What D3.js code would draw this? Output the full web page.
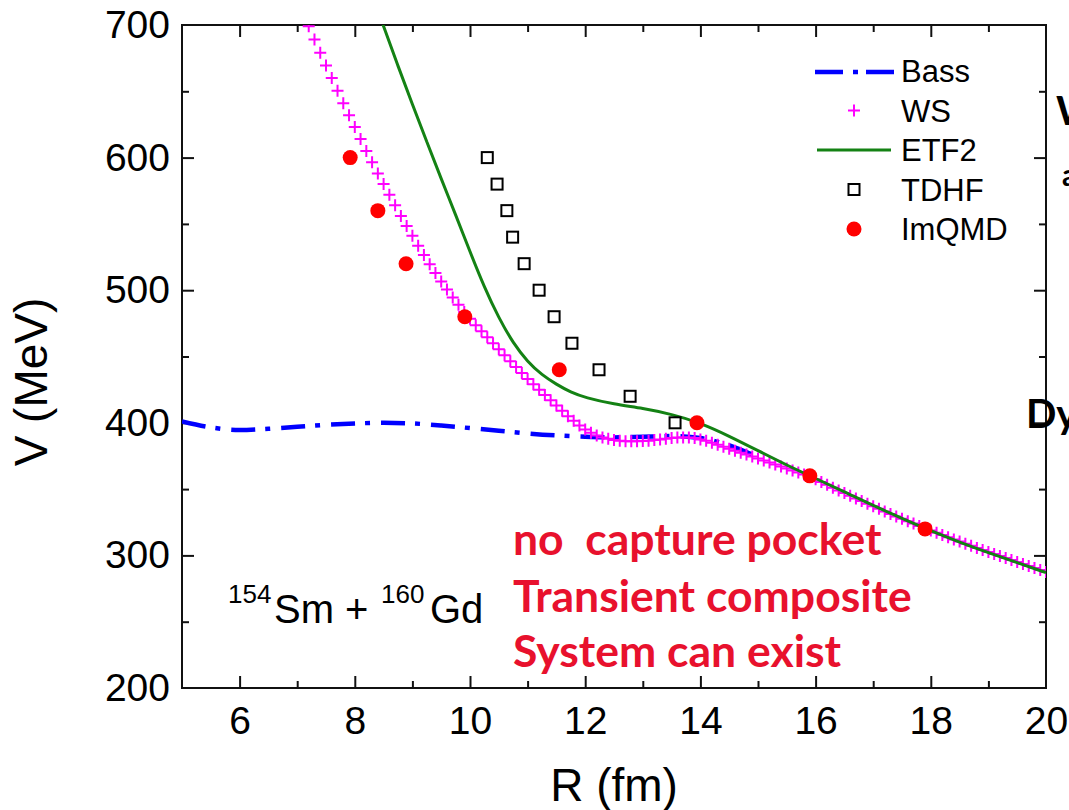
<!DOCTYPE html>
<html>
<head>
<meta charset="utf-8">
<script src="https://cdn.jsdelivr.net/npm/d3@7"></script>
<style>
  body { margin: 0; background: #fff; }
  svg text { font-family: "Liberation Sans", Arial, sans-serif; }
</style>
</head>
<body>
<svg id="chart"></svg>
<script>
// values
var bassR = [5.0, 5.5, 6.0, 6.5, 7.0, 7.5, 8.0, 8.5, 9.0, 9.5, 10.0, 10.5, 11.0, 11.5, 12.0, 12.5, 13.0, 13.5, 14.0, 14.5, 15.0];
var bassV = [401, 396.5, 394.5, 395.5, 397, 398.5, 399.5, 400, 399.5, 398, 396, 394, 392, 390.5, 389.5, 389, 389.5, 390, 388.5, 383, 374];

var wsPts = [
  [7.2, 699], [7.3, 689], [7.4, 679], [7.5, 669.5], [7.6, 660], [7.7, 650.5], [7.8, 641], [7.9, 632],
  [8.0, 623], [8.1, 614], [8.2, 605], [8.3, 596.5], [8.4, 588], [8.5, 580], [8.6, 572], [8.7, 564],
  [8.8, 556], [8.9, 548.5], [9.0, 541], [9.1, 533.5], [9.2, 526.5], [9.3, 519.5], [9.4, 513], [9.5, 506.5],
  [9.6, 500.5], [9.7, 494.5], [9.8, 489], [9.9, 483.5], [10.0, 478.5], [10.1, 473.5], [10.2, 469], [10.3, 464.5],
  [10.4, 460], [10.5, 455.5], [10.6, 451], [10.7, 446.5], [10.8, 442], [10.9, 437.5], [11.0, 433], [11.1, 429],
  [11.2, 425], [11.3, 421], [11.4, 417], [11.5, 413], [11.6, 409], [11.7, 405], [11.8, 401.5], [11.9, 398],
  [12.0, 395], [12.1, 392.5], [12.2, 390.5], [12.3, 389], [12.4, 388], [12.5, 387], [12.6, 386.5], [12.7, 386],
  [12.8, 386], [12.9, 386], [13.0, 386.2], [13.1, 386.5], [13.2, 387], [13.3, 387.5], [13.4, 388], [13.5, 388.5],
  [13.6, 389], [13.7, 389], [13.8, 389], [13.9, 388.5], [14.0, 387.5], [14.1, 386.5], [14.2, 385], [14.3, 383.5],
  [14.4, 382], [14.5, 380.5], [14.6, 379], [14.7, 377.5], [14.8, 376], [14.9, 374.5], [15.0, 373], [15.1, 371.5],
  [15.2, 370], [15.3, 368.5], [15.4, 367], [15.5, 365.5], [15.6, 364], [15.7, 362.5], [15.8, 361], [15.9, 359.5],
  [16.0, 357.4], [16.1, 355.3], [16.2, 353.2], [16.3, 351.1], [16.4, 349], [16.5, 347], [16.6, 345], [16.7, 343],
  [16.8, 341], [16.9, 339], [17.0, 337], [17.1, 335.1], [17.2, 333.2], [17.3, 331.3], [17.4, 329.4], [17.5, 327.6],
  [17.6, 325.8], [17.7, 324], [17.8, 322.2], [17.9, 320.4], [18.0, 318.7], [18.1, 317], [18.2, 315.3], [18.3, 313.6],
  [18.4, 312], [18.5, 310.4], [18.6, 308.8], [18.7, 307.2], [18.8, 305.6], [18.9, 304], [19.0, 302.5], [19.1, 301],
  [19.2, 299.5], [19.3, 298], [19.4, 296.5], [19.5, 295], [19.6, 293.5], [19.7, 292], [19.8, 290.5], [19.9, 289],
  [20.0, 287.5]
];

var etfR = [8.4, 8.5, 8.75, 9.0, 9.25, 9.5, 9.75, 10.0, 10.25, 10.5, 10.75, 11.0, 11.25, 11.5, 11.75, 12.0, 12.5, 13.0, 13.5, 14.0, 14.5, 15.0, 15.5, 16.0, 16.5, 17.0, 17.5, 18.0, 18.5, 19.0, 19.5, 20.0];
var etfV = [711, 699, 669, 640, 612, 584, 557, 529, 502, 479, 460, 446, 436, 429, 423, 419, 414, 411, 406.5, 400, 390, 379, 368, 358, 348, 337.5, 328, 318.5, 310, 302, 294.5, 287];

var tdhfR = [10.30, 10.47, 10.64, 10.74, 10.94, 11.20, 11.46, 11.77, 12.24, 12.78, 13.56];
var tdhfV = [600, 580, 560, 540, 520, 500, 480, 460, 440, 420, 400];

var qmdR = [7.92, 8.40, 8.89, 9.91, 11.55, 13.94, 15.90, 17.90];
var qmdV = [600, 560, 520, 480, 440, 400, 360, 320];

var xMajor = [6, 8, 10, 12, 14, 16, 18, 20];
var xMinor = [7, 9, 11, 13, 15, 17, 19];
var yMajor = [200, 300, 400, 500, 600, 700];
var yMinor = [250, 350, 450, 550, 650];

var legendNames = ["Bass", "WS", "ETF2", "TDHF", "ImQMD"];

var W = 1069, H = 810;
var pLeft = 182, pRight = 1046, pTop = 25, pBottom = 688;

var svg = d3.select("#chart").attr("width", W).attr("height", H);
svg.append("rect").attr("width", W).attr("height", H).attr("fill", "#fff");

var x = d3.scaleLinear().domain([5, 20]).range([pLeft, pRight]);
var y = d3.scaleLinear().domain([200, 700]).range([pBottom, pTop]);

svg.append("clipPath").attr("id", "plotclip")
  .append("rect")
  .attr("x", pLeft).attr("y", pTop)
  .attr("width", pRight - pLeft).attr("height", pBottom - pTop);

// axes, ticks pointing inwards on all four sides
function addAxis(axis, tx, ty) {
  var g = svg.append("g")
    .attr("transform", "translate(" + tx + "," + ty + ")")
    .call(axis);
  g.select(".domain").remove();
  g.selectAll("line").attr("stroke", "#111").attr("stroke-width", 2);
  g.selectAll("text").attr("font-size", "39px").attr("fill", "#000");
  return g;
}
var xIn = xMajor.filter(function(d) { return d < 20; });
var yIn = yMajor.filter(function(d) { return d > 200 && d < 700; });
addAxis(d3.axisBottom(x).tickValues(xIn).tickSize(-12).tickSizeOuter(0).tickFormat(""), 0, pBottom);
addAxis(d3.axisBottom(x).tickValues(xMinor).tickSize(-7).tickSizeOuter(0).tickFormat(""), 0, pBottom);
addAxis(d3.axisTop(x).tickValues(xIn).tickSize(-12).tickSizeOuter(0).tickFormat(""), 0, pTop);
addAxis(d3.axisTop(x).tickValues(xMinor).tickSize(-7).tickSizeOuter(0).tickFormat(""), 0, pTop);
addAxis(d3.axisLeft(y).tickValues(yIn).tickSize(-12).tickSizeOuter(0).tickFormat(""), pLeft, 0);
addAxis(d3.axisLeft(y).tickValues(yMinor).tickSize(-7).tickSizeOuter(0).tickFormat(""), pLeft, 0);
addAxis(d3.axisRight(y).tickValues(yIn).tickSize(-12).tickSizeOuter(0).tickFormat(""), pRight, 0);
addAxis(d3.axisRight(y).tickValues(yMinor).tickSize(-7).tickSizeOuter(0).tickFormat(""), pRight, 0);

// tick labels
var xl = addAxis(d3.axisBottom(x).tickValues(xMajor).tickSize(0).tickPadding(18).tickFormat(d3.format("d")), 0, pBottom);
xl.selectAll("line").remove();
var yl = addAxis(d3.axisLeft(y).tickValues(yMajor).tickSize(0).tickPadding(12).tickFormat(d3.format("d")), pLeft, 0);
yl.selectAll("line").remove();

svg.append("rect")
  .attr("x", pLeft).attr("y", pTop)
  .attr("width", pRight - pLeft).attr("height", pBottom - pTop)
  .attr("fill", "none").attr("stroke", "#111").attr("stroke-width", 2);

svg.append("text")
  .text("R (fm)")
  .attr("x", (pLeft + pRight) / 2).attr("y", 801)
  .attr("text-anchor", "middle")
  .attr("font-size", "46px");
svg.append("text")
  .text("V (MeV)")
  .attr("transform", "translate(47,382) rotate(-90)")
  .attr("text-anchor", "middle")
  .attr("font-size", "46px");

// curves
var plot = svg.append("g").attr("clip-path", "url(#plotclip)");

var line = d3.line()
  .x(function(d) { return x(d[0]); })
  .y(function(d) { return y(d[1]); })
  .curve(d3.curveMonotoneX);

plot.append("path")
  .attr("d", line(d3.zip(bassR, bassV)))
  .attr("fill", "none")
  .attr("stroke", "#0000ff")
  .attr("stroke-width", 4.5)
  .attr("stroke-dasharray", "24,10,5,11");

var plus = "M-6,0H6M0,-6V6";
plot.selectAll(".ws")
  .data(wsPts)
  .enter().append("path")
  .attr("class", "ws")
  .attr("d", plus)
  .attr("transform", function(d) { return "translate(" + x(d[0]) + "," + y(d[1]) + ")"; })
  .attr("stroke", "#ff00ff")
  .attr("stroke-width", 2)
  .attr("fill", "none");

// ETF2 is a smooth curve
var smooth = d3.line()
  .x(function(d) { return x(d[0]); })
  .y(function(d) { return y(d[1]); })
  .curve(d3.curveBasis);

plot.append("path")
  .attr("d", smooth(d3.zip(etfR, etfV)))
  .attr("fill", "none")
  .attr("stroke", "#148214")
  .attr("stroke-width", 3);

plot.selectAll(".tdhf")
  .data(d3.zip(tdhfR, tdhfV))
  .enter().append("rect")
  .attr("class", "tdhf")
  .attr("x", function(d) { return x(d[0]) - 5.5; })
  .attr("y", function(d) { return y(d[1]) - 5.5; })
  .attr("width", 11).attr("height", 11)
  .attr("fill", "#fff")
  .attr("stroke", "#000")
  .attr("stroke-width", 2);

plot.selectAll(".qmd")
  .data(d3.zip(qmdR, qmdV))
  .enter().append("circle")
  .attr("class", "qmd")
  .attr("cx", function(d) { return x(d[0]); })
  .attr("cy", function(d) { return y(d[1]); })
  .attr("r", 7.5)
  .attr("fill", "#ff0000");

// legend
var lg = svg.append("g");
legendNames.forEach(function(name, i) {
  var base = 82 + i * 39.5, cy = base - 11;
  lg.append("text").text(name)
    .attr("x", 901).attr("y", base)
    .attr("font-size", "31px");
  if (i == 0) {
    lg.append("line").attr("x1", 815).attr("x2", 894).attr("y1", cy + 1).attr("y2", cy + 1)
      .attr("stroke", "#0000ff").attr("stroke-width", 4.5).attr("stroke-dasharray", "28,10,5,8");
  } else if (i == 1) {
    lg.append("path").attr("d", plus).attr("transform", "translate(854," + cy + ")")
      .attr("stroke", "#ff00ff").attr("stroke-width", 2);
  } else if (i == 2) {
    lg.append("line").attr("x1", 817).attr("x2", 891).attr("y1", cy).attr("y2", cy)
      .attr("stroke", "#148214").attr("stroke-width", 3);
  } else if (i == 3) {
    lg.append("rect").attr("x", 848.5).attr("y", cy - 5.5).attr("width", 11).attr("height", 11)
      .attr("fill", "#fff").attr("stroke", "#000").attr("stroke-width", 2);
  } else {
    lg.append("circle").attr("cx", 854).attr("cy", cy).attr("r", 7.5).attr("fill", "#ff0000");
  }
});

// reaction label
var rx = svg.append("text").attr("y", 623).attr("font-size", "40px");
rx.append("tspan").text("154").attr("x", 228).attr("dy", -20).attr("font-size", "26px");
rx.append("tspan").text("Sm +").attr("x", 274).attr("dy", 20);
rx.append("tspan").text("160").attr("x", 381).attr("dy", -20).attr("font-size", "26px");
rx.append("tspan").text("Gd").attr("x", 430).attr("dy", 20);

// red notes
var notes = ["no  capture pocket", "Transient composite", "System can exist"];
var noteY = [555, 612, 667];
notes.forEach(function(t, i) {
  svg.append("text").text(t)
    .attr("x", 513).attr("y", noteY[i])
    .attr("xml:space", "preserve")
    .style("white-space", "pre")
    .style("font-family", "Lato, 'Open Sans', sans-serif")
    .attr("font-weight", "bold")
    .attr("font-size", "44.5px")
    .attr("fill", "#e8112d");
});

// cut-off text from the slide on the right
svg.append("text").text("W").attr("x", 1056).attr("y", 125)
  .style("font-family", "Lato, sans-serif").attr("font-weight", "bold").attr("font-size", "40px");
svg.append("text").text("a").attr("x", 1062).attr("y", 186)
  .style("font-family", "Lato, sans-serif").attr("font-weight", "bold").attr("font-size", "30px");
svg.append("text").text("Dy").attr("x", 1026).attr("y", 428)
  .style("font-family", "Lato, sans-serif").attr("font-weight", "bold").attr("font-size", "40px");
</script>
</body>
</html>
